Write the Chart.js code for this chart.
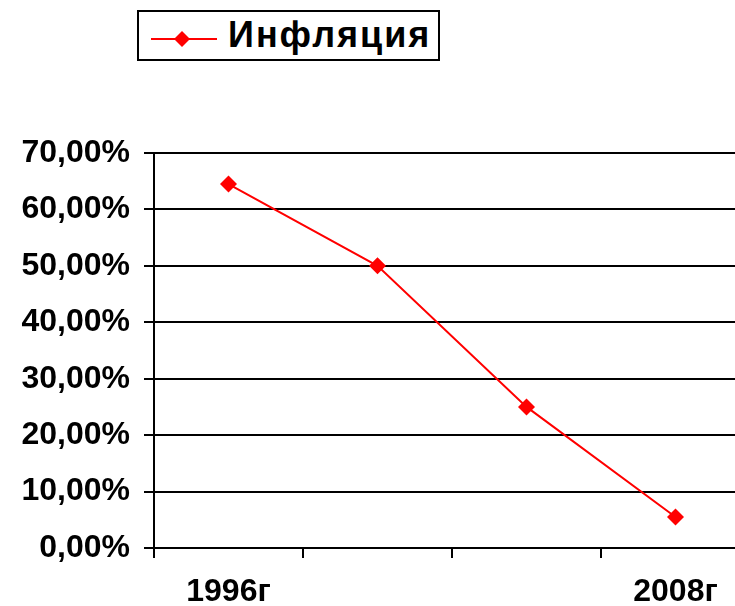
<!DOCTYPE html>
<html>
<head>
<meta charset="utf-8">
<script src="https://cdn.jsdelivr.net/npm/chart.js@4"></script>
<style>
  html, body { margin: 0; padding: 0; background: #fff; width: 735px; height: 606px; overflow: hidden; }
  #wrap { position: absolute; left: 0; top: 0; width: 760px; height: 606px; }
  #legend {
    position: absolute; left: 137px; top: 10px; width: 303px; height: 51px;
    box-sizing: border-box; border: 2px solid #000; background: #fff;
    font-family: Arial, "Liberation Sans", sans-serif; font-weight: bold; font-size: 36px;
  }
  #legend svg { position: absolute; left: 12px; top: 16px; }
  #legend span { position: absolute; left: 89px; top: 2px; letter-spacing: 2px; }
</style>
</head>
<body>
<div id="wrap"><canvas id="chart" width="760" height="606"></canvas></div>
<div id="legend">
  <svg width="70" height="22"><line x1="0" y1="11" x2="66" y2="11" stroke="#ff0000" stroke-width="2"/><polygon points="31,3 39,11 31,19 23,11" fill="#ff0000"/></svg>
  <span>Инфляция</span>
</div>
<script>
const categories = ["1996г", "", "", "2008г"];
const seriesName = "Инфляция";
const inflation = [64.5, 50, 25, 5.5];
const yTicks = [0, 10, 20, 30, 40, 50, 60, 70];

const ctx = document.getElementById("chart").getContext("2d");
const font = { family: "Arial, 'Liberation Sans', sans-serif", size: 32, weight: "bold" };

new Chart(ctx, {
  type: "line",
  data: {
    labels: categories,
    datasets: [{
      label: seriesName,
      data: inflation,
      borderColor: "#ff0000",
      backgroundColor: "#ff0000",
      borderWidth: 2,
      pointStyle: "rectRot",
      pointRadius: 8.5,
      pointBorderWidth: 0,
      tension: 0
    }]
  },
  options: {
    responsive: false,
    animation: false,
    layout: { padding: { top: 153, right: 10, left: 0, bottom: 0 } },
    plugins: { legend: { display: false }, tooltip: { enabled: false } },
    scales: {
      x: {
        offset: true,
        grid: { offset: true, drawOnChartArea: false, drawTicks: true, tickLength: 10, color: "#000", lineWidth: 2 },
        border: { display: true, color: "#000", width: 2 },
        ticks: { color: "#000", font: font, padding: 15, maxRotation: 0, autoSkip: false },
        afterFit: s => { s.height = 58; }
      },
      y: {
        min: yTicks[0],
        max: yTicks[yTicks.length - 1],
        afterBuildTicks: s => { s.ticks = yTicks.map(v => ({ value: v })); },
        grid: { color: "#000", lineWidth: 2, tickLength: 10 },
        border: { display: true, color: "#000", width: 2 },
        ticks: {
          color: "#000", font: font, padding: 14,
          callback: v => v.toFixed(2).replace(".", ",") + "%"
        },
        afterFit: s => { s.width = 154; }
      }
    }
  }
});
</script>
</body>
</html>
